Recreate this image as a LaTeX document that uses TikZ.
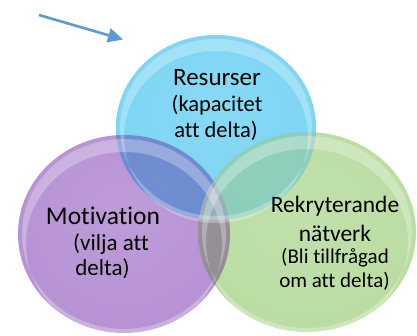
\documentclass[tikz,border=0pt]{standalone}
\usepackage{fontspec}
\setmainfont{Carlito}[Ligatures=NoCommon]
\usetikzlibrary{arrows.meta}
\definecolor{cblue}{RGB}{124,213,243}
\definecolor{cpurple}{RGB}{182,146,212}
\definecolor{cgreen}{RGB}{186,221,162}
\definecolor{arrowblue}{RGB}{91,155,213}
\pgfdeclareradialshading{sphblue}{\pgfpoint{0bp}{6bp}}{color(0bp)=(cblue!90!white); color(28bp)=(cblue); color(44bp)=(cblue!96!black); color(50bp)=(cblue!86!black)}
\pgfdeclareradialshading{sphpurple}{\pgfpoint{0bp}{6bp}}{color(0bp)=(cpurple!90!white); color(28bp)=(cpurple); color(44bp)=(cpurple!96!black); color(50bp)=(cpurple!86!black)}
\pgfdeclareradialshading{sphgreen}{\pgfpoint{0bp}{6bp}}{color(0bp)=(cgreen!90!white); color(28bp)=(cgreen); color(44bp)=(cgreen!96!black); color(50bp)=(cgreen!86!black)}
\tikzset{
  ball/.style={blend mode=multiply},
  shine/.style={fill=white, fill opacity=0.28, even odd rule},
  lbl/.style={font=\fontsize{#1}{#1}\selectfont, inner sep=0pt, text=black},
  pointer/.style={draw=arrowblue, line width=2.6pt, -{Triangle[length=15pt,width=14pt]}},
}
\def\pshape{(124,234) ellipse [x radius=106, y radius=99]}
\def\bshape{(216,127.5) ellipse [x radius=100, y radius=92.5]}
\def\gshape{(307,232) ellipse [x radius=109, y radius=100]}
\begin{document}
\begin{tikzpicture}[x=1pt,y=-1pt]
\useasboundingbox (0,0) rectangle (417,336);
\fill[white] (0,0) rectangle (417,336);
% circles
\begin{scope}[ball]
  \shade[shading=sphpurple] \pshape;
  \shade[shading=sphblue] \bshape;
  \shade[shading=sphgreen] \gshape;
\end{scope}
% soften the overlaps
\begin{scope}
  \clip \pshape; \fill[white, fill opacity=0.12] \bshape;
\end{scope}
\begin{scope}
  \clip \bshape; \fill[white, fill opacity=0.3] \gshape;
\end{scope}
\begin{scope}
  \clip \pshape; \fill[white, fill opacity=0.12] \gshape;
\end{scope}
% glassy top highlights
\fill[shine] (124,234) ellipse [x radius=102, y radius=95] (124,244) ellipse [x radius=98, y radius=92];
\fill[shine] (216,127.5) ellipse [x radius=96, y radius=88.5] (216,137) ellipse [x radius=92, y radius=86];
\fill[shine] (307,232) ellipse [x radius=105, y radius=96] (307,242) ellipse [x radius=101, y radius=93];
% arrow
\coordinate (as) at (39,15);
\coordinate (ae) at (123,39.5);
\draw[pointer] (as) -- (ae);
% texts
\node[lbl=25] (r1) at (217,78) {Resurser};
\node[lbl=22.5] (r2) at (217,105) {(kapacitet};
\node[lbl=22.5] (r3) at (216,131) {att delta)};
\node[lbl=25.5] (m1) at (103,216) {Motivation};
\node[lbl=23] (m2) at (111,244) {(vilja att};
\node[lbl=23] (m3) at (102.5,269) {delta)};
\node[lbl=23.5] (k1) at (335,206) {Rekryterande};
\node[lbl=23.5] (k2) at (335,233) {nätverk};
\node[lbl=21] (k3) at (335,258) {(Bli tillfrågad};
\node[lbl=21] (k4) at (334.5,281) {om att delta)};
\end{tikzpicture}
\end{document}
